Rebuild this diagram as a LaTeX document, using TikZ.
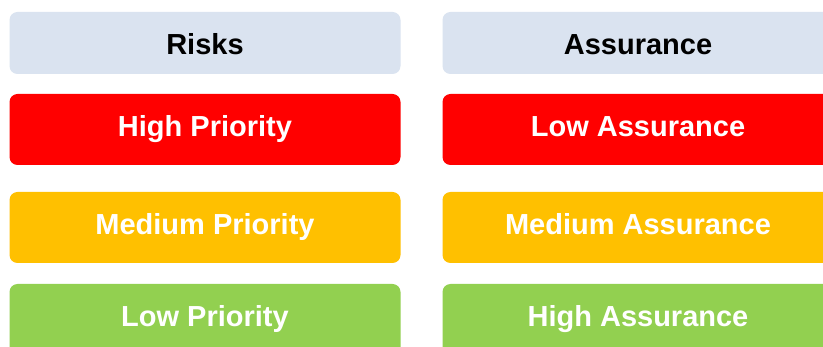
\documentclass[tikz,border=0pt]{standalone}
\usepackage{fontspec}
\setmainfont{Liberation Sans}
\definecolor{headblue}{HTML}{DAE3F0}
\definecolor{prio red}{HTML}{FF0000}
\definecolor{prio amber}{HTML}{FFC000}
\definecolor{prio green}{HTML}{92D050}
\tikzset{
  tile/.style={rectangle, rounded corners=8pt, inner sep=0pt,
    minimum width=391pt, font=\fontsize{29}{34}\selectfont\bfseries},
  headtile/.style={tile, fill=headblue, text=black, minimum height=62pt,
    text height=22.6pt, text depth=0pt},
  levtile/.style={tile, fill=#1, text=white, minimum height=71pt,
    text height=21pt, text depth=6.6pt},
}
\begin{document}
\begin{tikzpicture}[x=1pt, y=-1pt]
  \clip (0,0) rectangle (823,347);
  \fill[white] (0,0) rectangle (823,347);
  % column headings
  \node[headtile] (riskhead) at (205,43) {Risks};
  \node[headtile] (assurehead) at (638,43) {Assurance};
  % risk levels
  \node[levtile=prio red] (highrisk) at (205,129.5) {High Priority};
  \node[levtile=prio amber] (medrisk) at (205,227.5) {Medium Priority};
  \node[levtile=prio green] (lowrisk) at (205,319.5) {Low Priority};
  % assurance levels
  \node[levtile=prio red] (lowassure) at (638,129.5) {Low Assurance};
  \node[levtile=prio amber] (medassure) at (638,227.5) {Medium Assurance};
  \node[levtile=prio green] (highassure) at (638,319.5) {High Assurance};
\end{tikzpicture}
\end{document}
